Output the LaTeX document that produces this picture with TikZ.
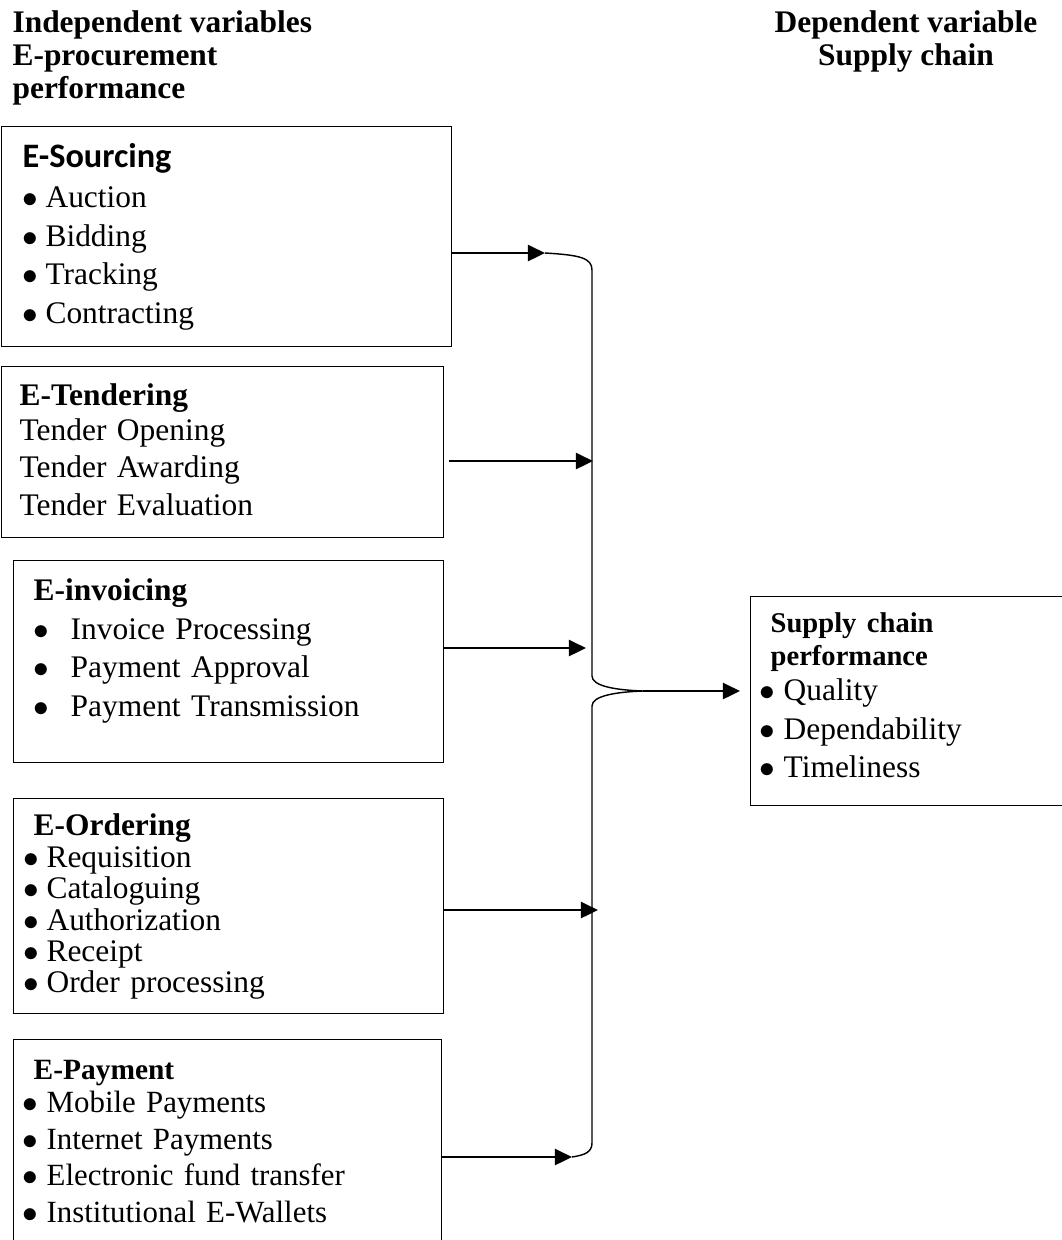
\documentclass[tikz,border=0pt]{standalone}
\usepackage{fontspec}
\setmainfont{Liberation Serif}
\newfontfamily\calibri{Carlito}
\usetikzlibrary{arrows.meta}

\newcommand{\itm}[2][8pt]{\makebox[#1][l]{$\bullet$}#2}

\begin{document}
\begin{tikzpicture}[
    x=0.35pt, y=-0.35pt,
    box/.style={draw, line width=0.5pt, anchor=north west, align=left, inner ysep=0pt,
                font=\fontsize{11}{13.5}\selectfont},
    hdr/.style={font=\fontsize{11}{11.55}\selectfont\bfseries, inner sep=0pt},
    arr/.style={-{Triangle[length=6pt, width=5.6pt]}, line width=1pt},
    brace/.style={line width=0.5pt},
]
\useasboundingbox (0,0) rectangle (1062,1240);

% Headings
\node[hdr, anchor=base west, align=left] (indep) at (12,98) {Independent variables\\E-procurement\\performance};
\node[hdr, anchor=base, align=center] (dep) at (906,65) {Dependent variable\\Supply chain};

% Independent variables
\node[box, inner xsep=7.35pt, text width=142.8pt, text height=14.35pt, text depth=62.65pt] (sourcing) at (1,126)
  {{\calibri\fontsize{12}{13.5}\selectfont\bfseries E-Sourcing}\\[0.5pt]
   \itm{Auction}\\ \itm{Bidding}\\ \itm{Tracking}\\ \itm{Contracting}};

\node[box, font=\fontsize{11}{13}\selectfont, inner xsep=6.3pt, text width=142.1pt, text height=13.65pt, text depth=46.2pt] (tendering) at (1,366)
  {\textbf{E-Tendering}\\[-0.75pt]
   Tender Opening\\ Tender Awarding\\ Tender Evaluation};

\node[box, inner xsep=7pt, text width=136.5pt, text height=14pt, text depth=56.7pt] (invoicing) at (13,560)
  {\textbf{E-invoicing}\\
   \itm[12.95pt]{Invoice Processing}\\ \itm[12.95pt]{Payment Approval}\\ \itm[12.95pt]{Payment Transmission}};

\node[box, font=\fontsize{11}{11}\selectfont, inner xsep=3.5pt, text width=143.5pt, text height=12.95pt, text depth=62.3pt] (ordering) at (13,798)
  {\hspace*{3.5pt}\textbf{E-Ordering}\\
   \itm{Requisition}\\ \itm{Cataloguing}\\ \itm{Authorization}\\ \itm{Receipt}\\ \itm{Order processing}};

\node[box, font=\fontsize{10.8}{12.8}\selectfont, inner xsep=3.15pt, text width=143.5pt, text height=14pt, text depth=70pt] (payment) at (13,1039)
  {\hspace*{3.85pt}{\fontsize{10.3}{12.8}\selectfont\textbf{E-Payment}}\\[-1.25pt]
   \itm[8.4pt]{Mobile Payments}\\ \itm[8.4pt]{Internet Payments}\\ \itm[8.4pt]{Electronic fund transfer}\\ \itm[8.4pt]{Institutional E-Wallets}};

% Dependent variable
\node[box, inner xsep=3.15pt, text width=107.45pt, text height=12.6pt, text depth=60.55pt] (supply) at (750,596)
  {\hspace*{3.85pt}{\fontsize{10}{11.55}\selectfont\textbf{Supply chain}}\\[-1.95pt]
   \hspace*{3.85pt}{\fontsize{10}{11.55}\selectfont\textbf{performance}}\\[-1.25pt]
   \itm[8.4pt]{Quality}\\ \itm[8.4pt]{Dependability}\\ \itm[8.4pt]{Timeliness}};

% Brace
\coordinate (brtop) at (545,253);
\coordinate (brtip) at (643,691);
\coordinate (brbot) at (572,1157);
\draw[brace] (brtop) .. controls (580,255) and (592,258) .. (592,270) -- (592,676)
  .. controls (592,686) and (615,690) .. (brtip)
  .. controls (615,692) and (592,696) .. (592,706) -- (592,1143)
  .. controls (592,1152) and (585,1155) .. (brbot);

% Arrows
\coordinate (in2) at (593,461);
\coordinate (in3) at (586,648);
\coordinate (in4) at (598,910);
\draw[arr] (sourcing.east |- brtop) -- (brtop);
\draw[arr, shorten <=1.75pt] (tendering.east |- in2) -- (in2);
\draw[arr] (invoicing.east |- in3) -- (in3);
\draw[arr] (ordering.east |- in4) -- (in4);
\draw[arr] (payment.east |- brbot) -- (brbot);
\draw[arr, shorten >=3.5pt] (brtip) -- (brtip -| supply.west);

\end{tikzpicture}
\end{document}
